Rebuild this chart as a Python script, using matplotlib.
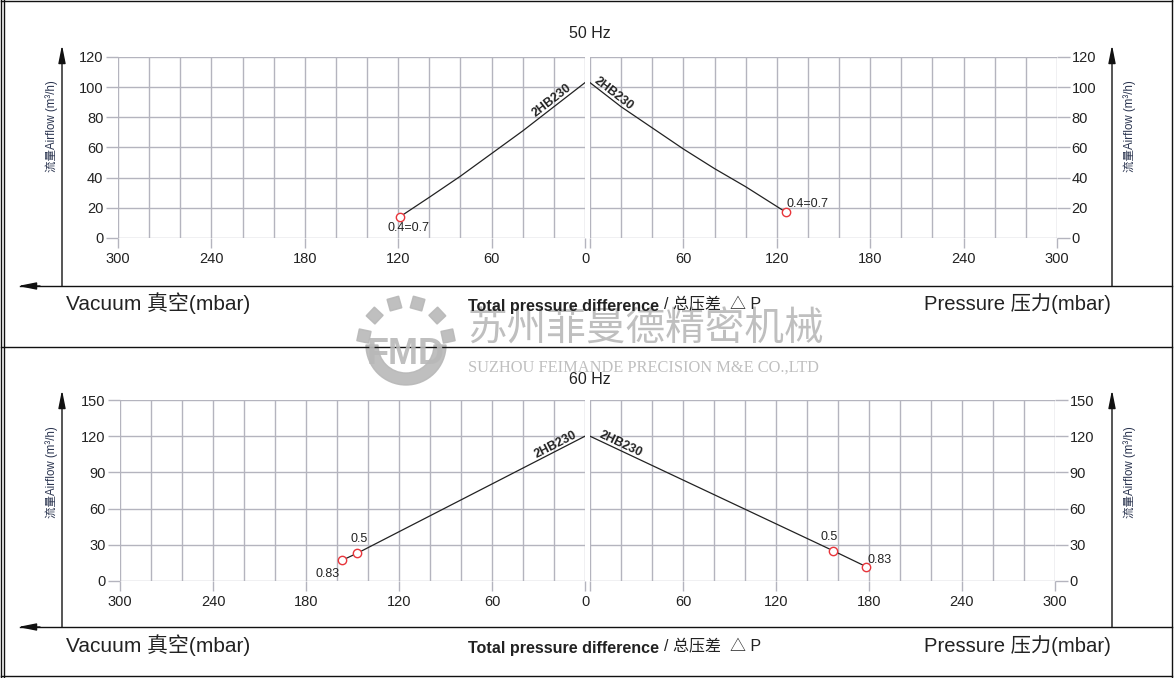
import numpy as np
import matplotlib.pyplot as plt
from matplotlib.ticker import MultipleLocator, FixedLocator
from matplotlib.patches import Wedge, Rectangle
import matplotlib.transforms as mtransforms

# ---- data ----
vac50_x = [119, 100, 80, 60, 40, 20, 0]
vac50_y = [14, 27, 41, 56, 71, 87, 103]
press50_x = [0, 20, 40, 60, 80, 100, 126]
press50_y = [103, 87, 73, 59, 46, 34, 17]
vac50_pts = ([119], [14], ["0.4=0.7"])
press50_pts = ([126], [17], ["0.4=0.7"])

vac60_x = [157, 147, 0]
vac60_y = [17, 23, 120]
press60_x = [0, 157, 178]
press60_y = [120, 25, 12]
vac60_pts = ([147, 157], [23, 17], ["0.5", "0.83"])
press60_pts = ([157, 178], [25, 12], ["0.5", "0.83"])

model = "2HB230"
ticks_50y = [0, 20, 40, 60, 80, 100, 120]
ticks_60y = [0, 30, 60, 90, 120, 150]
ticks_x = [0, 60, 120, 180, 240, 300]

W, H = 1175, 678
GRID = "#b4b4be"
TXT = "#222222"
RED = "#e8353b"
FAM = ["Liberation Sans", "Noto Sans CJK SC"]
plt.rcParams["font.family"] = FAM

fig = plt.figure(figsize=(W / 100, H / 100), dpi=100)


def box(x0, y0, x1, y1):
    return [x0 / W, 1 - y1 / H, (x1 - x0) / W, (y1 - y0) / H]


def setup(ax, ymax, ystep, yticks, left):
    ax.set_xlim(300, 0) if left else ax.set_xlim(0, 300)
    ax.set_ylim(0, ymax)
    ax.xaxis.set_major_locator(FixedLocator(ticks_x))
    if not left:
        # the shared "0" is printed once, under the left panel
        ax.set_xticklabels([""] + [str(t) for t in ticks_x[1:]])
    ax.xaxis.set_minor_locator(MultipleLocator(20))
    ax.yaxis.set_major_locator(FixedLocator(yticks))
    ax.yaxis.set_minor_locator(MultipleLocator(ystep))
    ax.grid(True, which="both", color=GRID, lw=1.0)
    for s in ax.spines.values():
        s.set_visible(False)
    ax.tick_params(which="minor", length=0)
    ax.tick_params(which="major", color=GRID, width=1.0,
                   labelsize=10.5, labelcolor=TXT)
    ax.tick_params(axis="x", length=7, pad=3)
    ax.tick_params(axis="y", length=9, pad=1.5)
    if not left:
        ax.yaxis.tick_right()
    ax.set_axisbelow(True)


def draw(ax, xs, ys, pts, label_x, offs):
    ax.plot(xs, ys, color="#222222", lw=0.9, zorder=3)
    px, py, labs = pts
    ax.plot(px, py, "o", ms=6, mfc="white", mec=RED, mew=1.0, zorder=4)
    for x, y, t, o in zip(px, py, labs, offs):
        ax.annotate(t, (x, y), xytext=o, textcoords="offset points",
                    fontsize=9, color=TXT, ha="left", va="center")
    # rotated model label following the line
    order = np.argsort(xs)
    sx, sy = np.array(xs)[order], np.array(ys)[order]
    ly = np.interp(label_x, sx, sy)
    a = ax.transData.transform((label_x - 3, np.interp(label_x - 3, sx, sy)))
    b = ax.transData.transform((label_x + 3, np.interp(label_x + 3, sx, sy)))
    ang = np.degrees(np.arctan2(b[1] - a[1], b[0] - a[0]))
    if ang > 90:
        ang -= 180
    if ang < -90:
        ang += 180
    ax.text(label_x, ly, model, rotation=ang, rotation_mode="anchor",
            ha="center", va="bottom", fontsize=9, fontweight="bold",
            color=TXT, zorder=5)


# ---- 50 Hz ----
ax1 = fig.add_axes(box(118, 57, 585, 238))
setup(ax1, 120, 20, ticks_50y, True)
draw(ax1, vac50_x, vac50_y, vac50_pts, 19, [(-9, -8)])

ax2 = fig.add_axes(box(590, 57, 1057, 238))
setup(ax2, 120, 20, ticks_50y, False)
draw(ax2, press50_x, press50_y, press50_pts, 13, [(0, 6)])

# ---- 60 Hz ----
ax3 = fig.add_axes(box(120, 400, 585, 581))
setup(ax3, 150, 30, ticks_60y, True)
draw(ax3, vac60_x, vac60_y, vac60_pts, 17, [(-5, 10), (-19, -10)])

ax4 = fig.add_axes(box(590, 400, 1055, 581))
setup(ax4, 150, 30, ticks_60y, False)
draw(ax4, press60_x, press60_y, press60_pts, 18, [(-9, 10), (1, 5)])

# ---- overlay: frames, arrows, titles, watermark ----
ov = fig.add_axes([0, 0, 1, 1], zorder=10)
ov.set_xlim(0, W)
ov.set_ylim(H, 0)
ov.axis("off")
ov.patch.set_visible(False)

k = dict(color="#111111", lw=1.0)
ov.plot([1, 1], [0, H], **k)
ov.plot([4, 4], [0, H], **k)
ov.plot([1172, 1172], [0, H], **k)
ov.plot([1, 1172], [347, 347], **k)
ov.plot([1, 1172], [676, 676], **k)
ov.plot([1, 1172], [1, 1], **k)

arr = dict(arrowstyle="-|>,head_length=0.9,head_width=0.18", color="#111111",
           lw=1.0, mutation_scale=12, shrinkA=0, shrinkB=0)
for yb, yt in [(286, 45), (627, 390)]:
    ov.plot([20, 1172], [yb, yb], **k)
    for xa in (62, 1112):
        ov.annotate("", xy=(xa, yt), xytext=(xa, yb), arrowprops=arr)
    ov.annotate("", xy=(18, yb), xytext=(40, yb), arrowprops=arr)

for yt, title in [(33, "50 Hz"), (379, "60 Hz")]:
    ov.text(590, yt, title, fontsize=11.5, color=TXT, ha="center", va="center")

for yb in (0, 342):
    ov.text(66, yb + 303, "Vacuum 真空(mbar)", fontsize=15, color=TXT,
            ha="left", va="center")
    ov.text(1111, yb + 304, "Pressure 压力(mbar)", fontsize=14.6, color=TXT,
            ha="right", va="center")
    ov.text(468, yb + 306, "Total pressure difference", fontsize=11.6,
            fontweight="bold", color=TXT, ha="left", va="center")
    ov.text(664, yb + 305, "/ 总压差  △ P", fontsize=11.5, color=TXT,
            ha="left", va="center")

for cy in (126, 472):
    for xl in (52, 1130):
        ov.text(xl, cy, "流量Airflow (m³/h)", fontsize=8.3, color="#2b3550",
                rotation=90, ha="center", va="center")

# watermark
wm = "#b8b8b8"
ov.text(468, 330, "苏州菲曼德精密机械", fontsize=28.5, color=wm, ha="left",
        va="center", family=["Noto Sans CJK SC"], alpha=0.9, zorder=1)
ov.text(468, 368, "SUZHOU FEIMANDE PRECISION M&E CO.,LTD", fontsize=11.8,
        color=wm, ha="left", va="center", family=["Liberation Serif"], alpha=0.9)
ov.add_patch(Wedge((406, 345), 40, 0, 180, width=12, color=wm, alpha=0.9))
for t in np.linspace(12, 168, 6):
    r = np.radians(t)
    cx, cy = 406 + 43 * np.cos(r), 345 - 43 * np.sin(r)
    ov.add_patch(Rectangle((cx - 6, cy - 6), 12, 12, color=wm, alpha=0.9,
                           transform=mtransforms.Affine2D().rotate_deg_around(cx, cy, -t + 90) + ov.transData))
ov.text(406, 355, "FMD", fontsize=26, fontweight="bold", color=wm,
        ha="center", va="center", alpha=0.9)

fig.savefig("out.png", dpi=100)
